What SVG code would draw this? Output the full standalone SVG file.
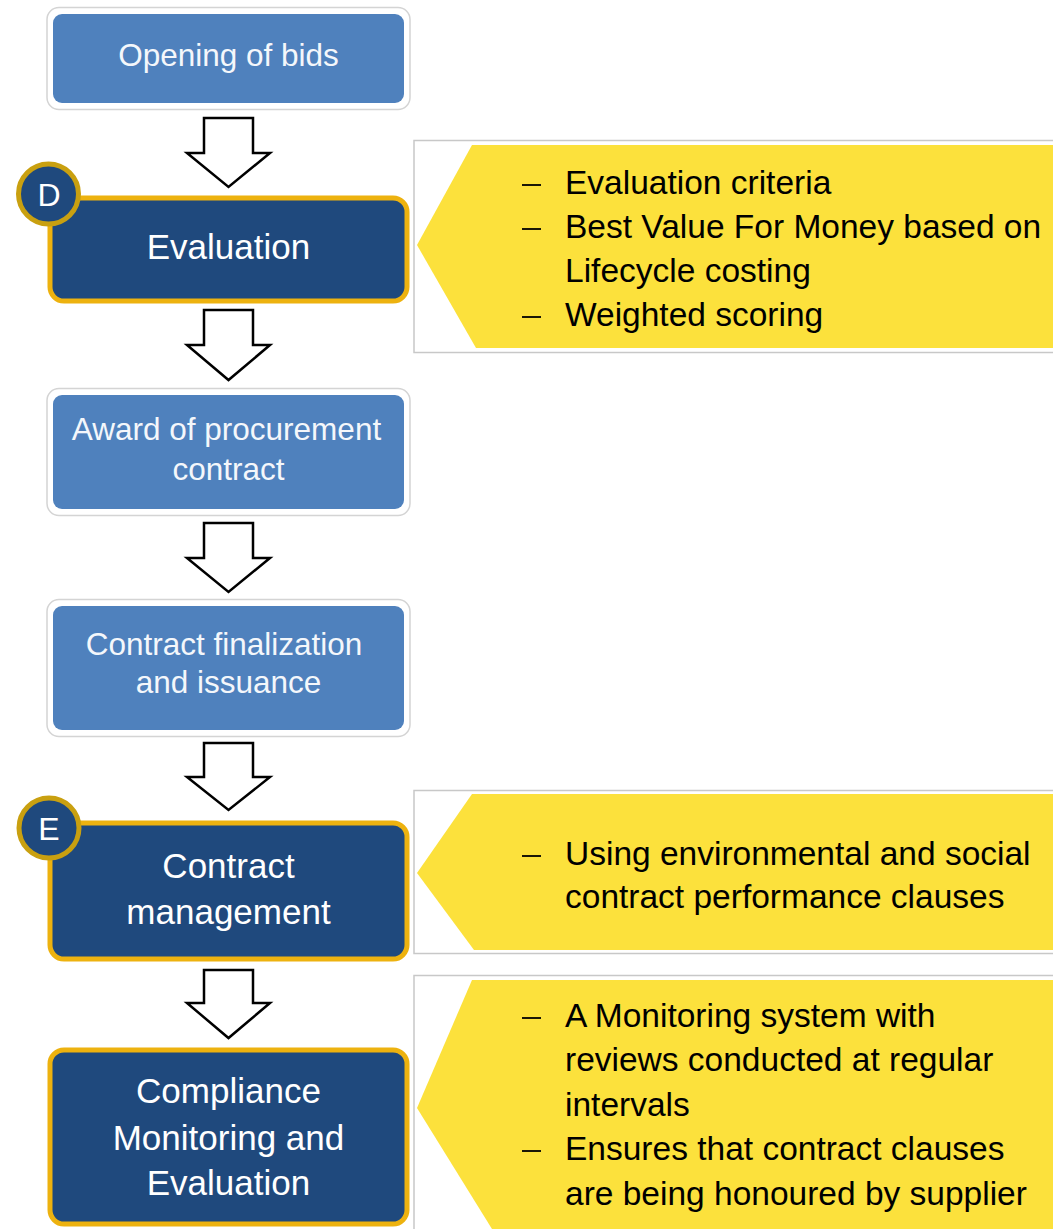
<svg xmlns="http://www.w3.org/2000/svg" width="1053" height="1229" viewBox="0 0 1053 1229">
<style>
text{font-family:"Liberation Sans",Arial,sans-serif}
.frame{fill:#ffffff;stroke:#d4d4d4;stroke-width:1.5}
.light{fill:#4F81BD}
.ltxt{fill:#f4f7fb;font-size:31.5px;text-anchor:middle}
.dark{fill:#1F497D;stroke:#EDB20F;stroke-width:5}
.dtxt{fill:#ffffff;font-size:35px;text-anchor:middle}
.badge{fill:#1F497D;stroke:#C9A010;stroke-width:5}
.btxt{fill:#ffffff;font-size:32px;text-anchor:middle}
.arrow{fill:#ffffff;stroke:#000000;stroke-width:2.5;stroke-linejoin:miter}
.cbox{fill:#ffffff;stroke:#c8c8c8;stroke-width:1.5}
.yellow{fill:#FCE13C}
.ctxt{fill:#000000;font-size:33.5px}
.dash{stroke:#000000;stroke-width:1.8}
</style>
<rect width="1053" height="1229" fill="#ffffff"/>

<g id="connectors">
<polygon class="arrow" points="204,118 253,118 253,153 270,153 228.5,187 187,153 204,153"/>
<polygon class="arrow" points="204,310 253,310 253,345 270,345 228.5,380 187,345 204,345"/>
<polygon class="arrow" points="204,523 253,523 253,558 270,558 228.5,592 187,558 204,558"/>
<polygon class="arrow" points="204,743 253,743 253,777 270,777 228.5,810 187,777 204,777"/>
<polygon class="arrow" points="204,970 253,970 253,1003 270,1003 228.5,1038 187,1003 204,1003"/>
</g>

<g id="node-opening">
<rect class="frame" x="47" y="7.5" width="363" height="102" rx="12"/>
<rect class="light" x="53" y="14" width="351" height="89" rx="9"/>
<text class="ltxt" x="228.5" y="66">Opening of bids</text>
</g>

<g id="node-evaluation">
<rect class="dark" x="50" y="198" width="357" height="103" rx="14"/>
<text class="dtxt" x="228.5" y="259">Evaluation</text>
<circle class="badge" cx="48.5" cy="194" r="30"/>
<text class="btxt" x="49" y="206">D</text>
</g>

<g id="callout-evaluation">
<rect class="cbox" x="414" y="140.5" width="645" height="212"/>
<polygon class="yellow" points="472,145 1053,145 1053,348 476,348 417,245"/>
<line class="dash" x1="522" y1="185" x2="541" y2="185"/>
<text class="ctxt" x="565" y="194">Evaluation criteria</text>
<line class="dash" x1="522" y1="229" x2="541" y2="229"/>
<text class="ctxt" x="565" y="238">Best Value For Money based on</text>
<text class="ctxt" x="565" y="282">Lifecycle costing</text>
<line class="dash" x1="522" y1="317" x2="541" y2="317"/>
<text class="ctxt" x="565" y="326">Weighted scoring</text>
</g>

<g id="node-award">
<rect class="frame" x="47" y="388.5" width="363" height="127" rx="12"/>
<rect class="light" x="53" y="395" width="351" height="114" rx="9"/>
<text class="ltxt" x="226.5" y="440">Award of procurement</text>
<text class="ltxt" x="228.5" y="480">contract</text>
</g>

<g id="node-finalization">
<rect class="frame" x="47" y="599.5" width="363" height="137" rx="12"/>
<rect class="light" x="53" y="606" width="351" height="124" rx="9"/>
<text class="ltxt" x="224" y="655">Contract finalization</text>
<text class="ltxt" x="228.5" y="693">and issuance</text>
</g>

<g id="node-contract-management">
<rect class="dark" x="50" y="823" width="357" height="136" rx="14"/>
<text class="dtxt" x="228.5" y="878">Contract</text>
<text class="dtxt" x="228.5" y="924">management</text>
<circle class="badge" cx="49" cy="828" r="30"/>
<text class="btxt" x="49" y="840">E</text>
</g>

<g id="callout-contract-management">
<rect class="cbox" x="414" y="790.5" width="645" height="163"/>
<polygon class="yellow" points="472,794 1053,794 1053,950 474,950 417,873"/>
<line class="dash" x1="522" y1="856" x2="541" y2="856"/>
<text class="ctxt" x="565" y="865">Using environmental and social</text>
<text class="ctxt" x="565" y="908">contract performance clauses</text>
</g>

<g id="node-compliance">
<rect class="dark" x="50" y="1050" width="357" height="174" rx="14"/>
<text class="dtxt" x="228.5" y="1103">Compliance</text>
<text class="dtxt" x="228.5" y="1150">Monitoring and</text>
<text class="dtxt" x="228.5" y="1195">Evaluation</text>
</g>

<g id="callout-compliance">
<rect class="cbox" x="414" y="975.5" width="645" height="260"/>
<polygon class="yellow" points="472,980 1053,980 1053,1229 492,1229 417,1108"/>
<line class="dash" x1="522" y1="1018" x2="541" y2="1018"/>
<text class="ctxt" x="565" y="1027">A Monitoring system with</text>
<text class="ctxt" x="565" y="1071">reviews conducted at regular</text>
<text class="ctxt" x="565" y="1116">intervals</text>
<line class="dash" x1="522" y1="1151" x2="541" y2="1151"/>
<text class="ctxt" x="565" y="1160">Ensures that contract clauses</text>
<text class="ctxt" x="565" y="1205">are being honoured by supplier</text>
</g>
</svg>
